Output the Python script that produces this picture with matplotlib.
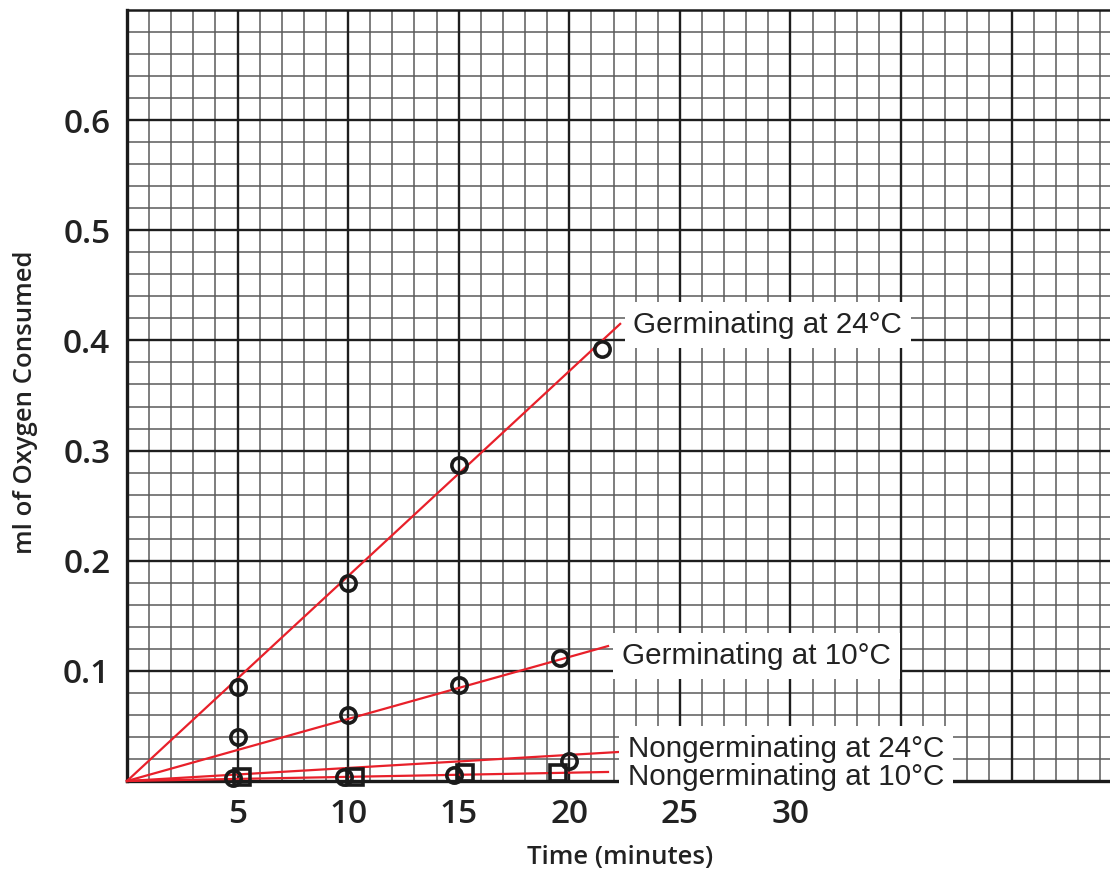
"""Oxygen consumption on graph paper."""

import matplotlib

matplotlib.use("Agg")
import matplotlib.pyplot as plt
from matplotlib.ticker import MultipleLocator

# Measured points
ger24_t = [5, 10, 15, 21.5]
ger24_o2 = [0.085, 0.180, 0.287, 0.392]
ger10_t = [5, 10, 15, 19.6]
ger10_o2 = [0.040, 0.060, 0.087, 0.112]
non24_t = [4.8, 9.8, 14.8, 20.0]
non24_o2 = [0.003, 0.004, 0.005, 0.018]
non10_t = [5.2, 10.3, 15.3, 19.5]
non10_o2 = [0.004, 0.004, 0.007, 0.007]

# Best-fit lines drawn from the origin: (end time, end value)
fit_lines = {
    "Germinating at 24°C": (22.3, 0.415),
    "Germinating at 10°C": (21.75, 0.1225),
    "Nongerminating at 24°C": (22.2, 0.0263),
    "Nongerminating at 10°C": (21.75, 0.0082),
}
# label anchor (left, center) per line
label_pos = {
    "Germinating at 24°C": (22.9, 0.414),
    "Germinating at 10°C": (22.4, 0.1134),
    "Nongerminating at 24°C": (22.65, 0.0295),
    "Nongerminating at 10°C": (22.65, 0.0035),
}

x_ticks = [5, 10, 15, 20, 25, 30]
y_ticks = [0.1, 0.2, 0.3, 0.4, 0.5, 0.6]

RED = "#e8202a"
INK = "#222222"

fig = plt.figure(figsize=(11.1, 8.75), dpi=100)
ax = fig.add_axes([127 / 1110, 94 / 875, 983 / 1110, 771 / 875])
ax.set_xlim(0, 44.45)
ax.set_ylim(0, 0.7)

# graph paper
ax.xaxis.set_minor_locator(MultipleLocator(1))
ax.yaxis.set_minor_locator(MultipleLocator(0.02))
ax.grid(which="minor", color="#5a5a5a", linewidth=1.1)
ax.set_axisbelow(True)
for v in range(5, 45, 5):
    ax.axvline(v, color="#1e1e1e", linewidth=1.7, zorder=1)
for v in [0.1, 0.2, 0.3, 0.4, 0.5, 0.6]:
    ax.axhline(v, color="#1e1e1e", linewidth=1.7, zorder=1)

ax.set_xticks(x_ticks)
ax.set_xticklabels([str(v) for v in x_ticks])
ax.set_yticks(y_ticks)
ax.set_yticklabels([f"{v:.1f}" for v in y_ticks])
ax.tick_params(which="both", length=0, labelsize=24, labelcolor=INK)
ax.tick_params(axis="x", pad=12)
ax.tick_params(axis="y", pad=12)
for lbl in ax.get_xticklabels() + ax.get_yticklabels():
    lbl.set_family("Open Sans")
    lbl.set_weight("semibold")

ax.spines["right"].set_visible(False)
ax.spines["left"].set_linewidth(2.4)
ax.spines["bottom"].set_linewidth(2.4)
ax.spines["top"].set_linewidth(1.8)
for side in ["left", "bottom", "top"]:
    ax.spines[side].set_color("#1a1a1a")
    ax.spines[side].set_zorder(2)

# fit lines + labels (white boxes drawn first so they don't cover each other's text)
for name, (tx, ty) in fit_lines.items():
    ax.plot([0, tx], [0, ty], color=RED, linewidth=1.6, zorder=4, clip_on=False)
    lx, ly = label_pos[name]
    ax.text(
        lx, ly, name, ha="left", va="center", fontsize=21.3,
        family="Liberation Sans", color=(0, 0, 0, 0), zorder=5,
        bbox=dict(boxstyle="square,pad=0.3", facecolor="white", edgecolor="none"),
    )
    ax.text(lx, ly, name, ha="left", va="center", fontsize=21.3,
            family="Liberation Sans", color=INK, zorder=6)

marker_style = dict(linestyle="none", markerfacecolor="none", markeredgecolor="#1a1a1a",
                    markeredgewidth=2.6, markersize=11, zorder=7, clip_on=False)
ax.plot(ger24_t, ger24_o2, marker="o", **marker_style)
ax.plot(ger10_t, ger10_o2, marker="o", **marker_style)
ax.plot(non24_t, non24_o2, marker="o", **marker_style)
ax.plot(non10_t, non10_o2, marker="s", **marker_style)

ax.set_xlabel("Time (minutes)", family="Open Sans", weight="semibold", size=18.5, color=INK)
ax.xaxis.set_label_coords((620 - 127) / 983, -(845 - 781) / 771)
ax.set_ylabel("ml of Oxygen Consumed", family="Open Sans", weight="semibold", size=18.5,
              color=INK)
ax.yaxis.set_label_coords(-(127 - 38) / 983, (781 - 402) / 771)

fig.savefig("out.png", dpi=100, facecolor="white")
